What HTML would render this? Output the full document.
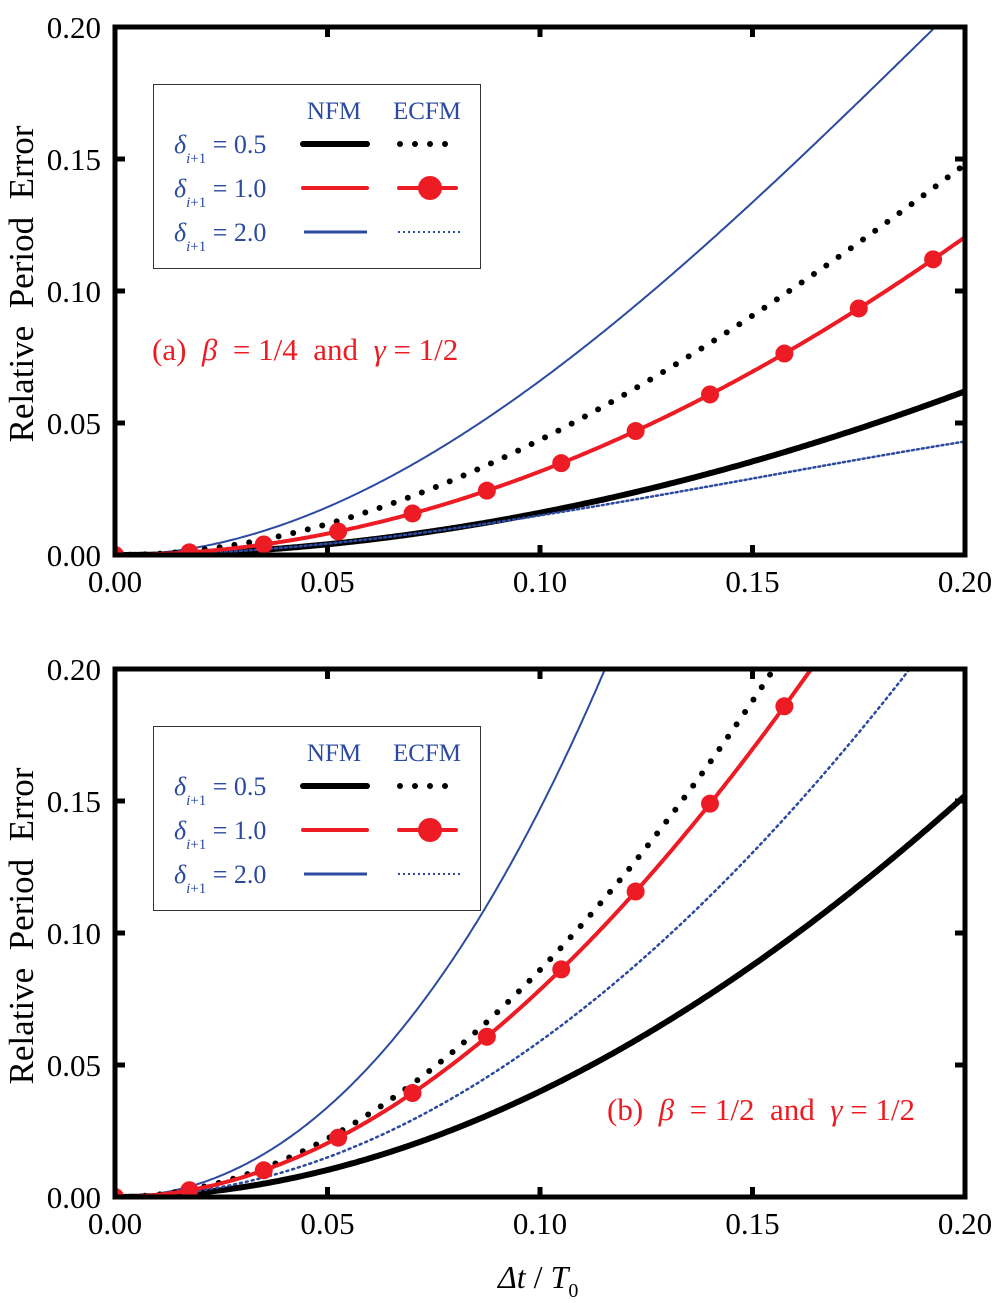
<!DOCTYPE html>
<html><head><meta charset="utf-8"><style>
body{margin:0;background:#fff}
svg{display:block;font-family:"Liberation Serif",serif}
text{white-space:pre}
</style></head><body>
<svg id="s" width="1000" height="1303" viewBox="0 0 1000 1303" xmlns="http://www.w3.org/2000/svg" xml:space="preserve"></svg>
<script>
const S=document.getElementById('s');let h='';
const X=v=>115+v*4250;
function fit(p1,p2){const [x1,y1]=p1,[x2,y2]=p2;
 const b=(y2/(x2*x2)-y1/(x1*x1))/(x2-x1);const a=y1/(x1*x1)-b*x1;return x=>a*x*x+b*x*x*x;}
function path(f,Y0){let d='';for(let i=0;i<=400;i++){const x=i*0.0005;const y=f(x);if(y>0.2005)break;d+=(i?'L':'M')+X(x).toFixed(1)+','+(Y0-y*2640).toFixed(1);}return d;}
function panel(Y0,curves,lab,lx,ly){
 const Yt=Y0-528;
 h+=`<defs><clipPath id="c${Y0}"><rect x="115" y="${Yt}" width="850" height="528"/></clipPath></defs><g clip-path="url(#c${Y0})">`;
 for(const c of curves){h+=`<path d="${path(c.f,Y0)}" fill="none" stroke="${c.col}" stroke-width="${c.w}" ${c.da?'stroke-dasharray="'+c.da+'"':''} stroke-linecap="round"/>`;
  if(c.m){for(let k=0;k<=12;k++){const x=k*0.0175,y=c.f(x);if(y>0.2)break;h+=`<circle cx="${X(x)}" cy="${Y0-y*2640}" r="9" fill="#ed1c24"/>`;}}}
 h+='</g>';
 h+=`<rect x="115" y="${Yt}" width="850" height="528" fill="none" stroke="#000" stroke-width="5"/>`;
 for(let i=1;i<4;i++){const x=X(i*0.05);h+=`<line x1="${x}" y1="${Y0}" x2="${x}" y2="${Y0-10}" stroke="#000" stroke-width="5"/><line x1="${x}" y1="${Yt}" x2="${x}" y2="${Yt+10}" stroke="#000" stroke-width="5"/>`;
  const y=Y0-i*132;h+=`<line x1="115" y1="${y}" x2="125" y2="${y}" stroke="#000" stroke-width="5"/><line x1="965" y1="${y}" x2="955" y2="${y}" stroke="#000" stroke-width="5"/>`;}
 for(let i=0;i<5;i++){const v=(i*0.05).toFixed(2);h+=`<text x="${X(i*0.05)}" y="${Y0+37}" font-size="31" text-anchor="middle">${v}</text><text x="101" y="${Y0-i*132+11}" font-size="31" text-anchor="end">${v}</text>`;}
 h+=`<text transform="translate(33,${Y0-271}) rotate(-90)" font-size="35" text-anchor="middle">Relative  Period  Error</text>`;
 const L=Yt+57,B='#2b4aa0';
 h+=`<rect x="153.5" y="${L+0.5}" width="327" height="184" fill="#fff" stroke="#333" stroke-width="1"/>`;
 h+=`<text x="334" y="${L+35}" font-size="25" fill="${B}" text-anchor="middle">NFM</text><text x="427" y="${L+35}" font-size="25" fill="${B}" text-anchor="middle">ECFM</text>`;
 const vals=['0.5','1.0','2.0'];
 vals.forEach((v,i)=>{const y=L+69+i*44;h+=`<text x="174" y="${y}" font-size="26" fill="${B}"><tspan font-style="italic">δ</tspan><tspan font-size="15" font-style="italic" dy="10">i</tspan><tspan font-size="15">+1</tspan><tspan dy="-10"> = ${v}</tspan></text>`;});
 let y=L+60;h+=`<line x1="303" y1="${y}" x2="367" y2="${y}" stroke="#000" stroke-width="6" stroke-linecap="round"/><line x1="400" y1="${y}" x2="460" y2="${y}" stroke="#000" stroke-width="6" stroke-dasharray="0 15" stroke-linecap="round"/>`;
 y=L+104;h+=`<line x1="303" y1="${y}" x2="367" y2="${y}" stroke="#ed1c24" stroke-width="4" stroke-linecap="round"/><line x1="399" y1="${y}" x2="456" y2="${y}" stroke="#ed1c24" stroke-width="4" stroke-linecap="round"/><circle cx="430" cy="${y}" r="12" fill="#ed1c24"/>`;
 y=L+148;h+=`<line x1="304" y1="${y}" x2="367" y2="${y}" stroke="${B}" stroke-width="3"/><line x1="398" y1="${y}" x2="463" y2="${y}" stroke="${B}" stroke-width="2" stroke-dasharray="2 3"/>`;
 h+=`<text x="${lx}" y="${ly}" font-size="31" fill="#ed1c24">${lab}</text>`;
}
const B='#2b4aa0',R='#ed1c24';
panel(555,[
 {f:fit([0.1,0.066],[0.193,0.2]),col:B,w:2},
 {f:fit([0.1,0.016],[0.2,0.062]),col:'#000',w:6},
 {f:fit([0.1,0.015],[0.2,0.043]),col:B,w:2.5,da:'2 3'},
 {f:fit([0.1,0.0436],[0.2,0.148]),col:'#000',w:6,da:'0 15'},
 {f:fit([0.105,0.0348],[0.1925,0.112]),col:R,w:4,m:1},
],'(a)  <tspan font-style="italic">β</tspan>  = 1/4  and  <tspan font-style="italic">γ</tspan> = 1/2',152,360);
panel(1197,[
 {f:fit([0.0835,0.1],[0.1153,0.2]),col:B,w:2},
 {f:fit([0.1,0.04],[0.2,0.152]),col:'#000',w:6},
 {f:fit([0.1,0.059],[0.187,0.2]),col:B,w:2.5,da:'2 4'},
 {f:fit([0.1,0.086],[0.155,0.2]),col:'#000',w:6,da:'0 15'},
 {f:fit([0.0875,0.0607],[0.14,0.149]),col:R,w:4,m:1},
],'(b)  <tspan font-style="italic">β</tspan>  = 1/2  and  <tspan font-style="italic">γ</tspan> = 1/2',607,1120);
h+=`<text x="498" y="1288" font-size="32"><tspan font-style="italic">Δt</tspan> / <tspan font-style="italic">T</tspan><tspan font-size="20" dy="9">0</tspan></text>`;
S.innerHTML=h;
</script>
</body></html>
